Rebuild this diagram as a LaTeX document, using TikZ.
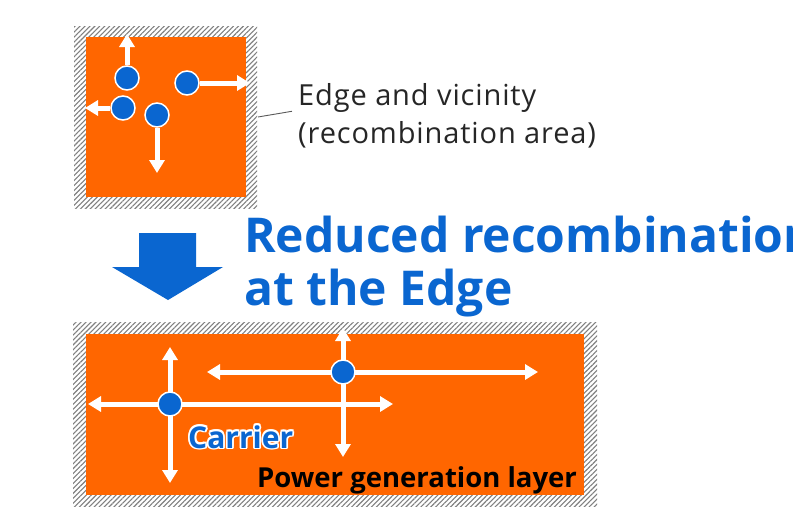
\documentclass[tikz,border=0pt]{standalone}
\usepackage{fontspec}
\setmainfont{Open Sans}
\newfontfamily\labfont[LetterSpace=3]{Open Sans}
\usetikzlibrary{arrows.meta,patterns.meta}
\definecolor{orng}{HTML}{FF6600}
\definecolor{blu}{HTML}{0A66D0}
\definecolor{hatchc}{HTML}{808080}
\pgfdeclarelayer{fg}
\pgfsetlayers{main,fg}
\newcommand\haloit[1]{\leavevmode
  \rlap{\color{white}\kern-1.8pt#1}\rlap{\color{white}\kern1.8pt#1}%
  \rlap{\color{white}\raisebox{1.8pt}{#1}}\rlap{\color{white}\raisebox{-1.8pt}{#1}}%
  \rlap{\color{white}\kern-1.3pt\raisebox{1.3pt}{#1}}\rlap{\color{white}\kern1.3pt\raisebox{1.3pt}{#1}}%
  \rlap{\color{white}\kern-1.3pt\raisebox{-1.3pt}{#1}}\rlap{\color{white}\kern1.3pt\raisebox{-1.3pt}{#1}}%
  #1}
\tikzset{
  hatchframe/.style={preaction={fill=white}, pattern={Lines[angle=45,distance=3.5pt,line width=1.1pt]}, pattern color=hatchc},
  layer/.style={fill=orng},
  carrier/.style={circle, fill=blu, draw=white, line width=1.5pt, minimum size=24pt, inner sep=0pt},
  carrow/.style={draw=white, line width=5pt, -{Triangle[width=15pt,length=13pt]}},
  title/.style={font=\fontsize{48}{53}\selectfont\bfseries, text=blu, inner sep=0pt, anchor=base west},
  label/.style={font=\labfont\fontsize{29}{38}\selectfont, text=black!85, inner sep=0pt, align=left, anchor=base west},
  leader/.style={draw=black!65, line width=0.9pt},
  bigarrow/.style={fill=blu}
}
\begin{document}
\begin{tikzpicture}[x=1pt,y=-1pt]
\useasboundingbox[fill=white] (0,0) rectangle (793,517);
% top frame
\path[hatchframe] (74,26) rectangle (257,208);
\path[layer] (86,37) rectangle (246,197);
% bottom frame
\path[hatchframe] (73,322) rectangle (597,506);
\path[layer] (86,334) rectangle (584,495);
% carriers (foreground)
\begin{pgfonlayer}{fg}
\node[carrier] (c1) at (127,78) {};
\node[carrier] (c2) at (123,108) {};
\node[carrier] (c3) at (157,115) {};
\node[carrier] (c4) at (187,83) {};
\node[carrier] (a) at (170,404) {};
\node[carrier] (b) at (343,372) {};
\node[font=\fontsize{30}{32}\selectfont\bfseries, text=blu, inner sep=0pt, anchor=base west] (carr) at (188,448) {\haloit{Carrier}};
\node[font=\fontsize{27.5}{30}\selectfont\bfseries, text=black, inner sep=0pt, anchor=base west] (pgl) at (257,487) {Power generation layer};
\end{pgfonlayer}
% arrow end points
\coordinate (c1e) at (127,34);
\coordinate (c2e) at (85,108);
\coordinate (c3e) at (157,173);
\coordinate (c4e) at (250,83);
\coordinate (aU) at (170,347);
\coordinate (aD) at (170,483);
\coordinate (aL) at (88,404);
\coordinate (aR) at (393,404);
\coordinate (bU) at (343,328);
\coordinate (bD) at (343,457);
\coordinate (bL) at (207,372);
\coordinate (bR) at (538,372);
\draw[carrow] (c1) -- (c1e);
\draw[carrow] (c2) -- (c2e);
\draw[carrow] (c3) -- (c3e);
\draw[carrow] (c4) -- (c4e);
\foreach \e in {aU,aD,aL,aR} \draw[carrow] (a.center) -- (\e);
\foreach \e in {bU,bD,bL,bR} \draw[carrow] (b.center) -- (\e);
% label
\node[label] (lbl) at (298,143) {Edge and vicinity\\(recombination area)};
\coordinate (lead) at (258,117);
\draw[leader] (lead) -- ([xshift=-6pt,yshift=4pt]lbl.west);
% big arrow
\fill[bigarrow] (139,233) -- (196,233) -- (196,267) -- (223,267) -- (168,300) -- (112,267) -- (139,267) -- cycle;
% title
\node[title] (t1) at (244,252) {Reduced recombination};
\node[title] (t2) at (244,305) {at the Edge};
\end{tikzpicture}
\end{document}
